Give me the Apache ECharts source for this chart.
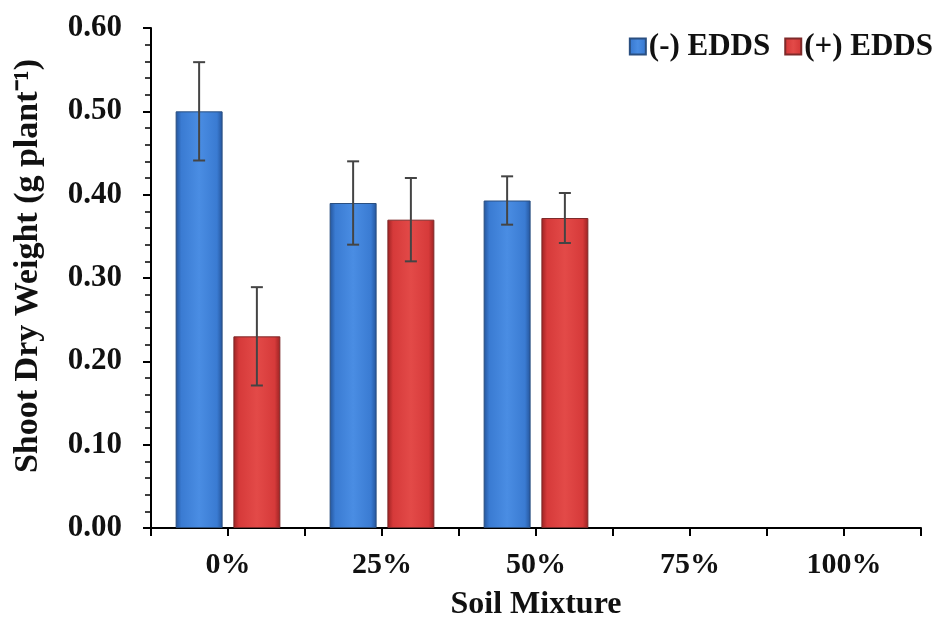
<!DOCTYPE html>
<html>
<head>
<meta charset="utf-8">
<script src="https://cdn.jsdelivr.net/npm/echarts@6/dist/echarts.min.js"></script>
<style>html,body{margin:0;padding:0;background:#fff}#c{width:942px;height:621px}</style>
</head>
<body>
<div id="c"></div>
<script>
var categories = ['0%', '25%', '50%', '75%', '100%'];
var minusEdds = [0.50, 0.39, 0.393, null, null];
var plusEdds = [0.23, 0.37, 0.372, null, null];
var minusErr = [0.059, 0.05, 0.029, null, null];
var plusErr = [0.059, 0.05, 0.03, null, null];
var yTicks = [0, 0.1, 0.2, 0.3, 0.4, 0.5, 0.6];

var FONT = '"Liberation Serif", "Times New Roman", serif';
var BAR_W = 0.305, GAP = 0.07;

function grad(c0, c1, c2) {
  return new echarts.graphic.LinearGradient(0, 0, 1, 0, [
    {offset: 0, color: c2}, {offset: 0.12, color: c0}, {offset: 0.5, color: c1},
    {offset: 0.88, color: c0}, {offset: 1, color: c2}
  ]);
}
function errSeries(vals, errs, sign) {
  var d = [];
  for (var i = 0; i < vals.length; i++) if (vals[i] != null) d.push([i, vals[i], errs[i]]);
  return {
    type: 'custom', z: 10, silent: true,
    renderItem: function (params, api) {
      var x = api.value(0), v = api.value(1), e = api.value(2);
      var cw = api.size([1, 0])[0];
      var off = sign * (BAR_W + GAP) / 2 * cw;
      var top = api.coord([x, v + e]), bot = api.coord([x, v - e]);
      var cx = top[0] + off, cap = 6;
      var st = {stroke: '#444', lineWidth: 2};
      return {type: 'group', children: [
        {type: 'line', shape: {x1: cx, y1: top[1], x2: cx, y2: bot[1]}, style: st},
        {type: 'line', shape: {x1: cx - cap, y1: top[1], x2: cx + cap, y2: top[1]}, style: st},
        {type: 'line', shape: {x1: cx - cap, y1: bot[1], x2: cx + cap, y2: bot[1]}, style: st}
      ]};
    },
    data: d
  };
}

var chart = echarts.init(document.getElementById('c'));
chart.setOption({
  animation: false,
  backgroundColor: '#fff',
  grid: {left: 151, right: 21, top: 28, bottom: 93, containLabel: false, outerBoundsMode: 'none'},
  legend: {
    right: 4, top: 26, itemWidth: 16, itemHeight: 16, itemGap: 14,
    textStyle: {fontFamily: FONT, fontWeight: 'bold', fontSize: 31, color: '#111', padding: [0, 0, 0, -2]},
    data: [{name: '(-) EDDS', icon: 'rect'}, {name: '(+) EDDS', icon: 'rect'}]
  },
  xAxis: [{
    type: 'category', data: categories,
    axisLine: {lineStyle: {color: '#000', width: 2}},
    axisTick: {show: true, length: 8, lineStyle: {color: '#000', width: 2}},
    axisLabel: {fontFamily: FONT, fontWeight: 'bold', fontSize: 30, color: '#111', margin: 22},
    name: 'Soil Mixture', nameLocation: 'middle', nameGap: 61,
    nameTextStyle: {fontFamily: FONT, fontWeight: 'bold', fontSize: 32, color: '#111'}
  }, {
    type: 'category', data: categories, position: 'bottom',
    axisLine: {show: false},
    axisTick: {show: true, alignWithLabel: true, length: 8, lineStyle: {color: '#000', width: 2}},
    axisLabel: {show: false}
  }],
  yAxis: {
    type: 'value', min: 0, max: 0.6, interval: 0.1,
    splitLine: {show: false},
    axisLine: {show: true, lineStyle: {color: '#000', width: 2}},
    axisTick: {show: true, length: 8, lineStyle: {color: '#000', width: 2}},
    minorTick: {show: true, splitNumber: 5, length: 6, lineStyle: {color: '#000', width: 1.5}},
    axisLabel: {fontFamily: FONT, fontWeight: 'bold', fontSize: 31, color: '#111', margin: 29,
      formatter: function (v) { return v.toFixed(2); }},
    name: 'Shoot Dry Weight (g plant\u207B\u00B9)', nameLocation: 'middle', nameGap: 106,
    nameTextStyle: {fontFamily: FONT, fontWeight: 'bold', fontSize: 34, color: '#111', padding: [0, 0, 0, 24]}
  },
  series: [{
    name: '(-) EDDS', type: 'bar', data: minusEdds, barWidth: (BAR_W * 100) + '%', barGap: (GAP / BAR_W * 100) + '%',
    itemStyle: {color: grad('#3a7bd2', '#4a8de3', '#24549a'), borderColor: '#2a4f80', borderWidth: 1}
  }, {
    name: '(+) EDDS', type: 'bar', data: plusEdds, barWidth: (BAR_W * 100) + '%',
    itemStyle: {color: grad('#d63a3a', '#e34a48', '#9b2222'), borderColor: '#7e2a2a', borderWidth: 1}
  }, errSeries(minusEdds, minusErr, -1), errSeries(plusEdds, plusErr, 1)]
});
</script>
</body>
</html>
